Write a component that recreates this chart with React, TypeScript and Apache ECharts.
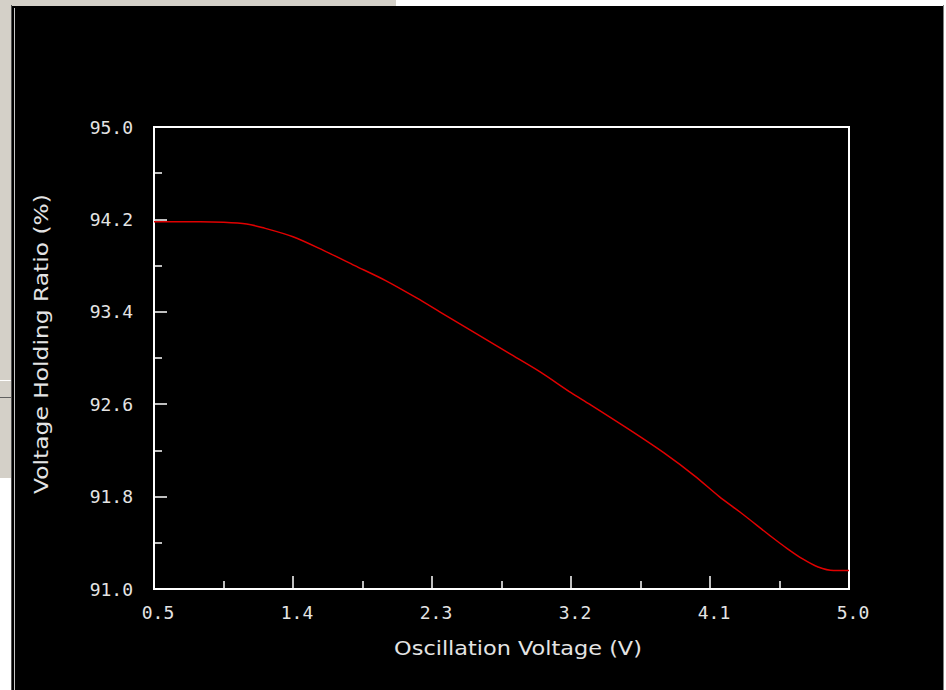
import React, { useEffect, useRef } from "react";
import * as echarts from "echarts";

const X_MIN = 0.5;
const Y_MIN = 91.0;
const xValues = [0.5, 0.8, 0.95, 1.1, 1.2, 1.4, 1.6, 1.8, 2.0, 2.2, 2.35, 2.6, 2.8, 3.0, 3.2, 3.32, 3.6, 3.8, 4.0, 4.16, 4.3, 4.5, 4.6, 4.7, 4.8, 4.9, 5.0];
const ratioValues = [94.18, 94.18, 94.175, 94.16, 94.13, 94.05, 93.93, 93.8, 93.67, 93.52, 93.4, 93.2, 93.04, 92.88, 92.7, 92.6, 92.36, 92.18, 91.98, 91.8, 91.66, 91.45, 91.35, 91.26, 91.19, 91.16, 91.16];
const xTitle = "Oscillation Voltage (V)";
const yTitle = "Voltage Holding Ratio (%)";

export default function App() {
  const ref = useRef<HTMLDivElement>(null);
  useEffect(() => {
    document.body.style.margin = "0";
    const chart = echarts.init(ref.current!, null, { renderer: "svg" });
    const font = "DejaVu Sans";
    const mono = "DejaVu Sans Mono";
    const labelColor = "#e4e4e4";
    const data = xValues.map((x, i) => [x - X_MIN, ratioValues[i] - Y_MIN]);
    chart.setOption({
      animation: false,
      backgroundColor: "#000",
      grid: { left: 154, right: 97, top: 127, bottom: 101, show: true, borderColor: "#fff", borderWidth: 2 },
      xAxis: {
        type: "value",
        min: 0,
        max: 4.5,
        interval: 0.9,
        axisLine: { show: true, lineStyle: { color: "#fff", width: 2 } },
        axisTick: { show: true, inside: true, length: 13, lineStyle: { color: "#fff", width: 1.5 } },
        minorTick: { show: true, splitNumber: 2, length: 8, lineStyle: { color: "#fff", width: 1.5 } },
        splitLine: { show: false },
        axisLabel: {
          color: labelColor,
          fontFamily: mono,
          fontSize: 18,
          margin: 14,
          padding: [0, 0, 0, 8],
          formatter: (v: number) => (v + X_MIN).toFixed(1),
        },
      },
      yAxis: {
        type: "value",
        min: 0,
        max: 4,
        interval: 0.8,
        axisLine: { show: true, lineStyle: { color: "#fff", width: 2 } },
        axisTick: { show: true, inside: true, length: 13, lineStyle: { color: "#fff", width: 1.5 } },
        minorTick: { show: true, splitNumber: 2, length: 8, lineStyle: { color: "#fff", width: 1.5 } },
        splitLine: { show: false },
        axisLabel: {
          color: labelColor,
          fontFamily: mono,
          fontSize: 18,
          margin: 21,
          formatter: (v: number) => (v + Y_MIN).toFixed(1),
        },
      },
      graphic: [
        { type: "rect", shape: { x: 0, y: 0, width: 396, height: 6 }, style: { fill: "#d4d0c8" }, silent: true },
        { type: "rect", shape: { x: 396, y: 0, width: 550, height: 6 }, style: { fill: "#ffffff" }, silent: true },
        { type: "rect", shape: { x: 0, y: 0, width: 11, height: 478 }, style: { fill: "#d4d0c8" }, silent: true },
        { type: "rect", shape: { x: 0, y: 478, width: 11, height: 212 }, style: { fill: "#ffffff" }, silent: true },
        { type: "rect", shape: { x: 0, y: 380, width: 11, height: 1 }, style: { fill: "#ffffff" }, silent: true },
        { type: "rect", shape: { x: 0, y: 397, width: 11, height: 1 }, style: { fill: "#606060" }, silent: true },
        { type: "rect", shape: { x: 11, y: 5, width: 1, height: 685 }, style: { fill: "#505050" }, silent: true },
        { type: "rect", shape: { x: 14, y: 8, width: 1, height: 682 }, style: { fill: "#c8c8c8" }, silent: true },
        { type: "rect", shape: { x: 943, y: 5, width: 1, height: 685 }, style: { fill: "#808080" }, silent: true },
        { type: "rect", shape: { x: 944, y: 0, width: 2, height: 690 }, style: { fill: "#ffffff" }, silent: true },
        {
          type: "text",
          x: 518,
          y: 648,
          scaleX: 1.12,
          style: { text: xTitle, fill: labelColor, font: `20px '${font}'`, textAlign: "center", textVerticalAlign: "middle" },
        },
        {
          type: "text",
          x: 41,
          y: 344,
          rotation: Math.PI / 2,
          scaleX: 1.17,
          style: { text: yTitle, fill: labelColor, font: `20px '${font}'`, textAlign: "center", textVerticalAlign: "middle" },
        },
      ],
      series: [
        {
          type: "line",
          data,
          smooth: 0.3,
          showSymbol: false,
          lineStyle: { color: "#e00000", width: 1.5 },
        },
      ],
    });
    return () => chart.dispose();
  }, []);
  return <div ref={ref} style={{ position: "fixed", left: 0, top: 0, width: 946, height: 690 }} />;
}
